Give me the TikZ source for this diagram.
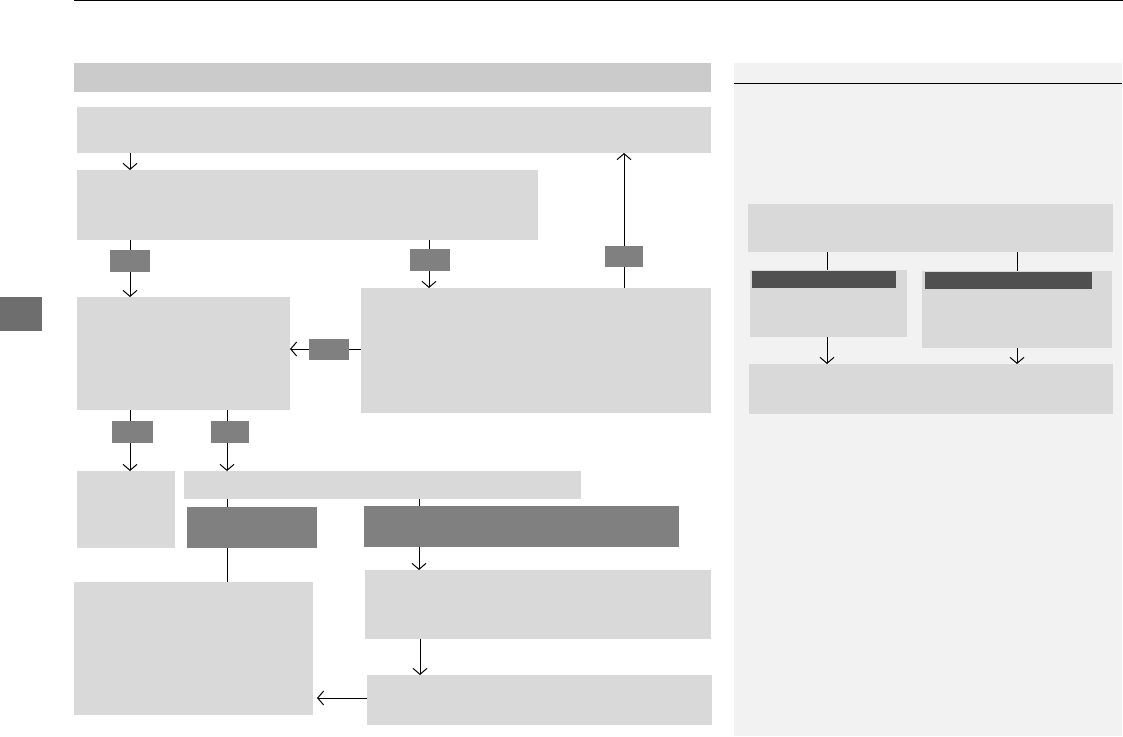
\documentclass[tikz,border=0pt]{standalone}
\usetikzlibrary{arrows.meta}
\definecolor{boxgray}{HTML}{D9D9D9}
\definecolor{headgray}{HTML}{CBCBCB}
\definecolor{labgray}{HTML}{808080}
\definecolor{tabgray}{HTML}{6E6E6E}
\definecolor{panelgray}{HTML}{F2F2F2}
\definecolor{darkhead}{HTML}{505050}
\newcommand\mkbox[6]{\node[#2,anchor=north west,minimum width={(#5-#3)*1pt},minimum height={(#6-#4)*1pt}] (#1) at (#3,#4) {};}
\tikzset{
  x=1pt,y=-1pt,
  base/.style={inner sep=0pt,outer sep=0pt,draw=none,rectangle},
  lbox/.style={base,fill=boxgray},
  hbox/.style={base,fill=headgray},
  tag/.style={base,fill=labgray},
  tabbox/.style={base,fill=tabgray},
  pbox/.style={base,fill=panelgray},
  dbox/.style={base,fill=darkhead},
  conn/.style={line width=1pt,black},
  arr/.style={conn,-{Straight Barb[length=6pt,width=14pt]}}
}
\begin{document}
\begin{tikzpicture}
\useasboundingbox (0,0) rectangle (1123,736);
\fill[white] (0,0) rectangle (1123,736);
% top rule
\coordinate (tl) at (74,0.5);
\coordinate (tr) at (1123,0.5);
\draw[conn] (tl) -- (tr);
% side tab
\mkbox{tab}{tabbox}{0}{297}{42}{331}
% right panel
\mkbox{panel}{pbox}{734}{63}{1122}{736}
\draw[conn] (panel.west |- 0,83) -- (panel.east |- 0,83);
% left header bar
\mkbox{head}{hbox}{74}{63}{711}{92}
% main boxes
\mkbox{A}{lbox}{77}{107}{711}{153}
\mkbox{B}{lbox}{77}{170}{538}{240}
\mkbox{C}{lbox}{77}{297}{290}{410}
\mkbox{D}{lbox}{361}{288}{711}{413}
\mkbox{E}{lbox}{77}{471}{175}{548}
\mkbox{F}{lbox}{184}{471}{581}{499}
\mkbox{G}{tag}{187}{507}{317}{548}
\mkbox{J}{tag}{364}{506}{679}{547}
\mkbox{H}{lbox}{74}{582}{313}{715}
\mkbox{I}{lbox}{365}{570}{711}{639}
\mkbox{K}{lbox}{367}{675}{712}{725}
% small label tags
\mkbox{L1}{tag}{110}{250}{150}{272}
\mkbox{L2}{tag}{410}{249}{450}{271}
\mkbox{L3}{tag}{605}{246}{643}{267}
\mkbox{L4}{tag}{309}{339}{349}{360}
\mkbox{L5}{tag}{112}{421}{153}{443}
\mkbox{L6}{tag}{211}{421}{249}{443}
% connectors
\draw[arr] (A.south -| 130,0) -- (B.north -| 130,0);
\draw[conn] (B.south -| 130,0) -- (L1.north -| 130,0);
\draw[arr] (L1.south -| 130,0) -- (C.north -| 130,0);
\draw[conn] (B.south -| 429,0) -- (L2.north -| 429,0);
\draw[arr] (L2.south -| 429,0) -- (D.north -| 429,0);
\draw[conn] (D.north -| 624,0) -- (L3.south -| 624,0);
\draw[arr] (L3.north -| 624,0) -- (A.south -| 624,0);
\draw[conn] (D.west |- 0,349) -- (L4.east |- 0,349);
\draw[arr] (L4.west |- 0,349) -- (C.east |- 0,349);
\draw[conn] (C.south -| 130,0) -- (L5.north -| 130,0);
\draw[arr] (L5.south -| 130,0) -- (E.north -| 130,0);
\draw[conn] (C.south -| 227,0) -- (L6.north -| 227,0);
\draw[arr] (L6.south -| 227,0) -- (F.north -| 227,0);
\draw[conn] (F.south -| 227,0) -- (G.north -| 227,0);
\draw[conn] (G.south -| 227,0) -- (H.north -| 227,0);
\draw[conn] (F.south -| 419,0) -- (J.north -| 419,0);
\draw[arr] (J.south -| 419,0) -- (I.north -| 419,0);
\draw[arr] (I.south -| 420,0) -- (K.north -| 420,0);
\coordinate (Hin) at (317,698);
\draw[arr] (K.west |- Hin) -- (Hin);
% right panel boxes
\mkbox{P1}{lbox}{748}{204}{1113}{252}
\mkbox{P2}{lbox}{750}{270}{907}{337}
\mkbox{P2h}{dbox}{752}{271}{896}{288}
\mkbox{P3}{lbox}{922}{271}{1112}{348}
\mkbox{P3h}{dbox}{925}{272}{1092}{289}
\mkbox{P4}{lbox}{749}{364}{1113}{414}
\draw[conn] (P1.south -| 827,0) -- (P2.north -| 827,0);
\draw[conn] (P1.south -| 1017,0) -- (P3.north -| 1017,0);
\draw[arr] (P2.south -| 827,0) -- (P4.north -| 827,0);
\draw[arr] (P3.south -| 1017,0) -- (P4.north -| 1017,0);
\end{tikzpicture}
\end{document}
